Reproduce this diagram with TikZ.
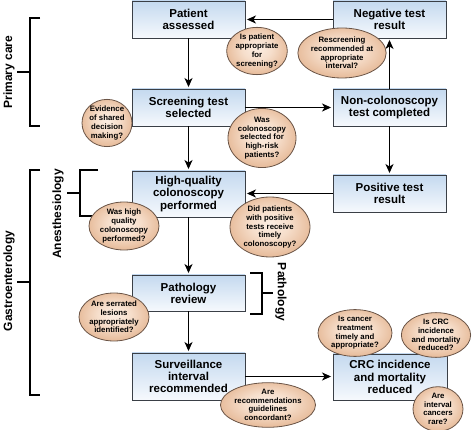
\documentclass[tikz,border=0pt]{standalone}
\usepackage{fontspec}
\setmainfont{Liberation Sans}
\usetikzlibrary{arrows.meta,shapes.geometric}
\definecolor{boxtop}{HTML}{C4D9EF}
\definecolor{boxbot}{HTML}{F6F9FD}
\definecolor{boxline}{HTML}{3A3F46}
\definecolor{ellin}{HTML}{FCEEE3}
\definecolor{ellmid}{HTML}{F6DECB}
\definecolor{ellout}{HTML}{E8BE9E}
\definecolor{ellline}{HTML}{6A5446}
\pgfdeclareradialshading{ellshade}{\pgfpoint{0bp}{3bp}}{color(0bp)=(ellin); color(12bp)=(ellmid); color(25bp)=(ellout); color(50bp)=(ellout)}
\tikzset{
  flowbox/.style={draw=boxline, line width=0.9pt, top color=boxtop, bottom color=boxbot,
    minimum width=113pt, inner sep=0pt, align=center,
    font=\fontsize{11.5}{12.2}\selectfont\bfseries},
  qell/.style={ellipse, draw=ellline, line width=0.8pt, shading=ellshade,
    inner sep=0pt, align=center, font=\fontsize{7.8}{8.7}\selectfont\bfseries},
  flow/.style={line width=1.6pt, shorten >=1.5pt, -{Stealth[length=9pt,width=8pt,inset=2.5pt]}},
  brk/.style={line width=1.8pt},
  brklabel/.style={font=\fontsize{12}{13}\selectfont\bfseries, inner sep=0pt}
}
\begin{document}
\begin{tikzpicture}[x=1pt,y=-1pt]
\useasboundingbox (0,0) rectangle (474,430);
% boxes
\node[flowbox, minimum height=37pt] (pat) at (188.5,19.5) {Patient\\assessed};
\node[flowbox, minimum height=37pt] (neg) at (389.5,19.5) {Negative test\\result};
\node[flowbox, minimum height=37pt] (scr) at (188.5,107.5) {Screening test\\selected};
\node[flowbox, minimum height=37pt] (non) at (389.5,107.5) {Non-colonoscopy\\test completed};
\node[flowbox, minimum height=46pt] (hq) at (188.5,194) {High-quality\\colonoscopy\\performed};
\node[flowbox, minimum height=37pt] (pos) at (389.5,193.5) {Positive test\\result};
\node[flowbox, minimum height=36pt] (path) at (188.5,293) {Pathology\\review};
\node[flowbox, minimum height=47pt] (surv) at (188.5,376.5) {Surveillance\\interval\\recommended};
\node[flowbox, minimum height=46pt, minimum width=114pt] (crc) at (390,377) {CRC incidence\\and mortality\\reduced};
% arrows
\draw[flow] (neg.west) -- (pat.east);
\draw[flow] (pat.south) -- (scr.north);
\draw[flow] (scr.east) -- (non.west);
\draw[flow] (non.north) -- (neg.south);
\draw[flow] (non.south) -- (pos.north);
\draw[flow] (pos.west) -- (pos.west -| hq.east);
\draw[flow] (scr.south) -- (hq.north);
\draw[flow] (hq.south) -- (path.north);
\draw[flow] (path.south) -- (surv.north);
\draw[flow] (surv.east) -- (surv.east -| crc.west);
% brackets
\coordinate (pc1) at (40,18); \coordinate (pc2) at (30,18); \coordinate (pc3) at (30,126); \coordinate (pc4) at (40,126);
\coordinate (pcm) at (30,72); \coordinate (pct) at (17,72);
\draw[brk] (pc1) -- (pc2) -- (pc3) -- (pc4);
\draw[brk] (pct) -- (pcm);
\node[brklabel, rotate=90] (pclab) at (9,72) {Primary care};
\coordinate (ga1) at (40,170); \coordinate (ga2) at (30,170); \coordinate (ga3) at (30,395); \coordinate (ga4) at (40,395);
\coordinate (gam) at (30,282); \coordinate (gat) at (17,282);
\draw[brk] (ga1) -- (ga2) -- (ga3) -- (ga4);
\draw[brk] (gat) -- (gam);
\node[brklabel, rotate=90] (galab) at (9,281) {Gastroenterology};
\coordinate (an1) at (98,170); \coordinate (an2) at (80,170); \coordinate (an3) at (80,216); \coordinate (an4) at (96,216);
\coordinate (anm) at (80,193); \coordinate (ant) at (67,193);
\draw[brk] (an1) -- (an2) -- (an3) -- (an4);
\draw[brk] (ant) -- (anm);
\node[brklabel, rotate=90] (anlab) at (58,214) {Anesthesiology};
\coordinate (pa1) at (250,273); \coordinate (pa2) at (262,273); \coordinate (pa3) at (262,314); \coordinate (pa4) at (250,314);
\coordinate (pam) at (262,293); \coordinate (pat2) at (273,293);
\draw[brk] (pa1) -- (pa2) -- (pa3) -- (pa4);
\draw[brk] (pam) -- (pat2);
\node[brklabel, rotate=-90] (palab) at (281,292) {Pathology};
% ellipses
\node[qell, minimum width=60pt, minimum height=46pt] (e1) at (257,51) {Is patient\\appropriate\\for\\screening?};
\node[qell, minimum width=72pt, minimum height=50pt] (e2) at (342,53) {Rescreening\\recommended at\\appropriate\\interval?};
\node[qell, minimum width=50pt, minimum height=46pt] (e3) at (107,123) {Evidence\\of shared\\decision\\making?};
\node[qell, minimum width=64pt, minimum height=54pt] (e4) at (262,138) {Was\\colonoscopy\\selected for\\high-risk\\patients?};
\node[qell, minimum width=70pt, minimum height=48pt] (e5) at (124,226) {Was high\\quality\\colonoscopy\\performed?};
\node[qell, minimum width=80pt, minimum height=60pt] (e6) at (270,227) {Did patients\\with positive\\tests receive\\timely\\colonoscopy?};
\node[qell, minimum width=70pt, minimum height=48pt] (e7) at (114,317) {Are serrated\\lesions\\appropriately\\identified?};
\node[qell, minimum width=76pt, minimum height=44pt] (e8) at (268,405) {Are\\recommendations\\guidelines\\concordant?};
\node[qell, minimum width=74pt, minimum height=46pt] (e9) at (355,333) {Is cancer\\treatment\\timely and\\appropriate?};
\node[qell, minimum width=62pt, minimum height=44pt] (e10) at (436,335) {Is CRC\\incidence\\and mortality\\reduced?};
\node[qell, minimum width=50pt, minimum height=40pt] (e11) at (438,409) {Are\\interval\\cancers\\rare?};
\end{tikzpicture}
\end{document}
